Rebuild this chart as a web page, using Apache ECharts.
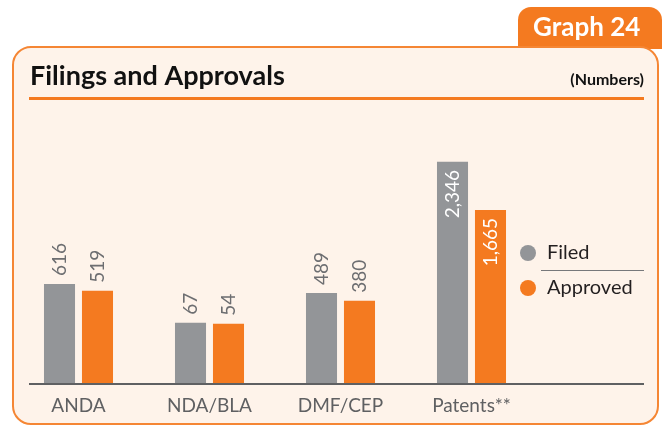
<!DOCTYPE html>
<html>
<head>
<meta charset="utf-8">
<style>
  html, body { margin: 0; padding: 0; background: #ffffff; }
  #chart { width: 664px; height: 425px; }
</style>
<script src="https://cdn.jsdelivr.net/npm/echarts@6/dist/echarts.min.js"></script>
</head>
<body>
<div id="chart"></div>
<script>
// Filings and approvals by category
const categories = ['ANDA', 'NDA/BLA', 'DMF/CEP', 'Patents**'];
const filed = [616, 67, 489, 2346];
const approved = [519, 54, 380, 1665];
const seriesNames = ['Filed', 'Approved'];

// value axis range (floor below zero gives short bars visible height)
const Y_MIN = -800;
const Y_MAX = 2500;

const GREY = '#939598';
const ORANGE = '#f47a20';
const PEACH = '#fef3ea';
const LABEL_GREY = '#6d6e71';

const chart = echarts.init(document.getElementById('chart'), null, { renderer: 'canvas' });

function fmt(v) {
  return v.toLocaleString('en-US');
}

// bar + rotated value label, side = -1 (left bar) or +1 (right bar)
function makeRenderer(side, color) {
  return function (params, api) {
    const cat = api.value(0);
    const val = api.value(1);
    const top = api.coord([cat, val]);
    const base = api.coord([cat, Y_MIN]);
    const band = api.size([1, 0])[0];
    const barW = band * 0.237;
    const cx = top[0] + side * band * 0.145;
    const h = base[1] - top[1];
    const inside = h > 150;
    return {
      type: 'group',
      children: [
        {
          type: 'rect',
          shape: { x: cx - barW / 2, y: top[1], width: barW, height: h },
          style: { fill: color }
        },
        {
          type: 'text',
          x: cx,
          y: inside ? top[1] + 8 : top[1] - 8,
          rotation: Math.PI / 2,
          style: {
            text: fmt(val),
            fill: inside ? '#ffffff' : LABEL_GREY,
            font: '19px Lato',
            align: inside ? 'right' : 'left',
            verticalAlign: 'middle'
          }
        }
      ]
    };
  };
}

const option = {
  backgroundColor: '#ffffff',
  animation: false,
  graphic: [
    // header tab
    {
      type: 'rect', z: 0,
      shape: { x: 518, y: 7, width: 144, height: 42, r: [13, 13, 0, 0] },
      style: { fill: ORANGE }
    },
    {
      type: 'text', z: 1, x: 533, y: 28,
      style: { text: 'Graph 24', font: 'bold 26px Lato', fill: '#ffffff', verticalAlign: 'middle' }
    },
    // panel
    {
      type: 'rect', z: 0,
      shape: { x: 13, y: 47, width: 645, height: 377, r: 18 },
      style: { fill: PEACH, stroke: '#f58634', lineWidth: 2 }
    },
    {
      type: 'text', z: 1, x: 30, y: 76,
      style: { text: 'Filings and Approvals', font: 'bold 27px Lato', fill: '#111111', verticalAlign: 'middle' }
    },
    {
      type: 'text', z: 1, x: 644, y: 80,
      style: { text: '(Numbers)', font: 'bold 16px Lato', fill: '#111111', align: 'right', verticalAlign: 'middle' }
    },
    {
      type: 'rect', z: 1,
      shape: { x: 29, y: 97, width: 615, height: 3 },
      style: { fill: ORANGE }
    },
    // baseline
    {
      type: 'line', z: 5,
      shape: { x1: 29, y1: 384, x2: 644, y2: 384 },
      style: { stroke: '#5f6062', lineWidth: 2 }
    },
    // legend separator
    {
      type: 'line', z: 5,
      shape: { x1: 541, y1: 270.5, x2: 644, y2: 270.5 },
      style: { stroke: '#77787b', lineWidth: 1 }
    }
  ],
  grid: { left: 13, right: 127, top: 151, bottom: 41, containLabel: false },
  xAxis: {
    type: 'category',
    data: categories,
    axisLine: { show: false },
    axisTick: { show: false },
    axisLabel: {
      fontFamily: 'Lato', fontSize: 19, color: '#5f6062', margin: 12
    }
  },
  yAxis: {
    type: 'value',
    min: Y_MIN,
    max: Y_MAX,
    show: false
  },
  legend: {
    orient: 'vertical',
    left: 515,
    top: 238,
    icon: 'circle',
    itemWidth: 16,
    itemHeight: 16,
    itemGap: 15,
    data: seriesNames,
    textStyle: {
      fontFamily: 'Lato', fontSize: 20, color: '#231f20',
      lineHeight: 20, padding: [0, 0, 0, 6]
    }
  },
  series: [
    {
      name: seriesNames[0],
      type: 'custom',
      itemStyle: { color: GREY },
      renderItem: makeRenderer(-1, GREY),
      data: filed.map((v, i) => [i, v]),
      z: 3
    },
    {
      name: seriesNames[1],
      type: 'custom',
      itemStyle: { color: ORANGE },
      renderItem: makeRenderer(1, ORANGE),
      data: approved.map((v, i) => [i, v]),
      z: 3
    }
  ]
};

chart.setOption(option);
</script>
</body>
</html>
